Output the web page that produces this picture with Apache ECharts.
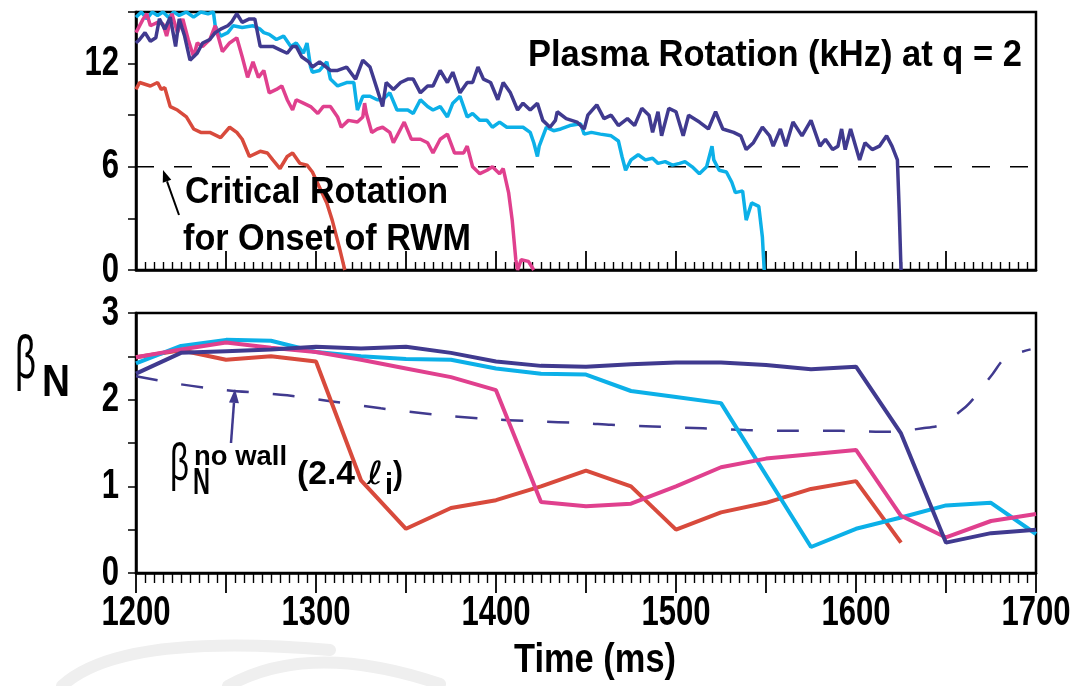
<!DOCTYPE html>
<html><head><meta charset="utf-8">
<script src="https://cdn.jsdelivr.net/npm/echarts@6/dist/echarts.min.js"></script>
<style>html,body{margin:0;padding:0;background:#fff}#c{width:1082px;height:686px}</style>
</head><body><div id="c"></div>
<script>
// ---------- data ----------
const timeTicks = [1200, 1300, 1400, 1500, 1600, 1700];
const rotTicks = [0, 6, 12];
const betaTicks = [0, 1, 2, 3];
const criticalRotation = 6;

const rotRed = [[1200,10.5],[1202,10.9],[1208,10.7],[1212,10.9],[1214,10.5],[1216,10.6],[1219,9.5],[1223,9.3],[1228,8.9],[1232,8.2],[1236,8.0],[1241,8.0],[1247,7.7],[1252,8.3],[1256,8.0],[1259,7.6],[1263,6.6],[1269,6.9],[1273,6.8],[1276,6.4],[1280,5.9],[1284,6.6],[1287,6.8],[1291,6.2],[1295,6.1],[1298,5.7],[1302,4.8],[1306,3.9],[1309,2.9],[1313,1.3],[1316,0]];

const rotPink = [[1200,13.8],[1204,14.6],[1206,14.9],[1208,14.2],[1212,14.4],[1215,14.3],[1217,13.6],[1220,14.9],[1223,13.8],[1226,14.6],[1229,13.4],[1232,12.4],[1234,13.2],[1237,13.0],[1241,13.4],[1244,14.2],[1248,12.7],[1252,13.2],[1256,13.5],[1259,12.4],[1262,11.2],[1265,12.1],[1268,11.2],[1271,11.6],[1274,10.3],[1278,10.5],[1281,10.7],[1284,9.9],[1287,9.3],[1289,9.9],[1293,9.7],[1297,9.5],[1301,9.1],[1304,9.5],[1308,9.5],[1312,8.9],[1314,8.3],[1318,8.7],[1323,8.6],[1326,8.9],[1327,9.7],[1328,9.1],[1331,8.0],[1334,8.2],[1337,8.3],[1341,8.0],[1343,7.4],[1347,8.2],[1349,8.6],[1353,7.6],[1358,7.6],[1362,7.4],[1365,6.8],[1369,7.6],[1373,7.9],[1377,6.8],[1382,6.8],[1384,7.2],[1387,6.0],[1391,5.6],[1395,5.8],[1398,6.0],[1402,5.6],[1404,5.9],[1407,4.5],[1409,2.9],[1411,0.6],[1412,0],[1414,0.6],[1418,0.5],[1421,0]];

const rotCyan = [[1200,14.7],[1203,15],[1206,14.6],[1209,15],[1212,14.8],[1215,15],[1218,14.7],[1221,15],[1224,14.8],[1228,15],[1232,14.7],[1236,15],[1240,14.9],[1243,15],[1244,14.2],[1247,13.6],[1251,13.8],[1254,14.2],[1259,14.1],[1265,14.2],[1269,14.0],[1271,13.8],[1274,13.7],[1278,13.4],[1282,13.6],[1286,13.0],[1289,13.2],[1293,12.6],[1295,13.2],[1297,11.8],[1298,11.5],[1302,11.6],[1306,12.1],[1308,11.1],[1312,10.7],[1317,10.9],[1321,10.9],[1323,9.3],[1326,10.1],[1330,10.1],[1334,9.9],[1337,9.9],[1341,10.3],[1345,9.3],[1351,9.3],[1354,9.1],[1358,9.9],[1362,9.5],[1365,9.3],[1369,9.5],[1373,8.9],[1376,9.7],[1380,10.1],[1384,8.9],[1387,9.1],[1391,8.7],[1395,8.7],[1398,8.3],[1402,8.6],[1406,8.3],[1412,8.3],[1415,8.3],[1419,8.0],[1421,7.4],[1423,6.6],[1424,7.2],[1428,8.3],[1432,8.1],[1436,8.2],[1441,8.4],[1447,8.5],[1449,7.9],[1453,8.0],[1458,7.9],[1464,7.8],[1468,7.5],[1470,6.6],[1472,5.8],[1475,6.4],[1479,6.7],[1483,6.4],[1487,6.5],[1490,6.2],[1494,6.3],[1498,6.1],[1502,6.2],[1505,6.3],[1509,6.0],[1513,5.6],[1517,6.0],[1520,7.2],[1521,6.4],[1524,5.8],[1528,5.7],[1531,5.1],[1533,4.5],[1537,4.6],[1539,2.9],[1542,3.9],[1546,3.7],[1548,1.9],[1549,0]];

const rotPurple = [[1200,13.2],[1202,13.4],[1205,13.8],[1208,13.3],[1211,13.5],[1213,14.6],[1216,14.0],[1219,14.7],[1222,13.0],[1224,14.6],[1227,13.6],[1230,12.2],[1234,12.6],[1237,13.2],[1241,13.4],[1244,13.8],[1247,14.0],[1251,14.2],[1253,14.4],[1256,14.9],[1259,14.4],[1263,14.6],[1266,14.6],[1269,13.0],[1273,13.0],[1276,13.0],[1280,12.8],[1284,12.6],[1287,13.0],[1289,13.0],[1292,12.4],[1296,12.1],[1298,11.8],[1302,12.1],[1308,11.6],[1312,11.6],[1317,11.8],[1322,11.1],[1326,12.2],[1330,11.8],[1334,10.5],[1337,9.5],[1339,10.9],[1343,10.5],[1347,10.9],[1351,11.1],[1354,11.1],[1358,10.3],[1362,10.7],[1365,10.7],[1369,11.6],[1373,10.9],[1376,11.5],[1380,10.3],[1384,10.9],[1387,10.9],[1390,11.8],[1393,11.1],[1397,10.9],[1401,9.9],[1404,10.9],[1408,10.3],[1412,9.3],[1415,9.7],[1419,9.3],[1423,9.7],[1426,8.7],[1430,8.3],[1433,8.7],[1434,9.2],[1439,8.8],[1445,8.6],[1449,8.2],[1451,9.0],[1456,9.6],[1460,8.8],[1464,9.0],[1468,8.4],[1473,8.8],[1477,8.4],[1481,9.4],[1485,9.0],[1487,8.0],[1490,9.2],[1492,7.8],[1496,9.4],[1500,9.2],[1504,7.8],[1507,9.0],[1513,8.6],[1518,8.2],[1522,9.2],[1526,8.2],[1532,8.0],[1536,7.8],[1539,7.0],[1543,7.4],[1548,8.3],[1552,7.8],[1554,7.2],[1558,8.2],[1561,7.2],[1565,8.6],[1570,7.8],[1575,8.7],[1580,7.2],[1583,7.6],[1587,7.0],[1590,7.2],[1592,8.2],[1594,7.0],[1597,8.2],[1602,6.4],[1605,7.4],[1609,7.0],[1613,7.2],[1617,7.8],[1620,7.2],[1623,6.4],[1624,3.5],[1625,0]];

const betaTimes = [1200,1225,1250,1275,1300,1325,1350,1375,1400,1425,1450,1475,1500,1525,1550,1575,1600,1625,1650,1675,1700];
const betaRed    = [2.49,2.57,2.46,2.50,2.44,1.07,0.51,0.75,0.84,1.00,1.18,1.00,0.50,0.70,0.81,0.97,1.06,0.35];
const betaPink   = [2.49,2.58,2.66,2.60,2.55,2.46,2.36,2.26,2.11,0.82,0.77,0.80,1.00,1.22,1.32,1.37,1.42,0.66,0.41,0.60,0.68];
const betaCyan   = [2.42,2.62,2.69,2.68,2.55,2.50,2.47,2.46,2.36,2.30,2.29,2.10,2.03,1.96,null,0.30,0.51,0.64,0.78,0.81,0.45];
const betaPurple = [2.30,2.54,2.56,2.58,2.61,2.59,2.61,2.54,2.44,2.39,2.38,2.41,2.43,2.43,2.40,2.35,2.38,1.61,0.35,0.46,0.50];
const betaNoWall = [[1200,2.27],[1224,2.18],[1250,2.11],[1284,2.05],[1309,1.98],[1336,1.90],[1365,1.83],[1393,1.78],[1421,1.75],[1448,1.73],[1464,1.71],[1487,1.69],[1515,1.67],[1539,1.65],[1566,1.64],[1592,1.64],[1619,1.63],[1637,1.67],[1647,1.71],[1660,1.90],[1666,2.03],[1676,2.30],[1683,2.48],[1697,2.58]];

// ---------- styling ----------
const RED = '#d84a3c', PINK = '#e0408e', CYAN = '#0cb0e8', PURPLE = '#403a8f';
const SANS = "'Liberation Sans', Arial, sans-serif";
const mc = document.createElement('canvas').getContext('2d');
function tw(font, t) { mc.font = font; return mc.measureText(t).width; }

// condensed text: fixed scale (s) or target width (w)
function ctext(str, x, cy, size, weight, fit, opts) {
  opts = opts || {};
  const fam = opts.family || SANS;
  const f = (opts.style || 'normal') + ' ' + weight + ' ' + size + 'px ' + fam;
  const sx = fit.w ? fit.w / tw(f, str) : (fit.s || 1);
  const al = opts.align || 'left';
  return {
    type: 'text', x: x, y: cy, scaleX: sx, z: 100, silent: true,
    style: { text: str, font: f, fill: opts.color || '#000', textAlign: al, textVerticalAlign: 'middle', align: al, verticalAlign: 'middle' }
  };
}
function arrow(x1, y1, x2, y2, color, w, hl, hw) {
  const dx = x2 - x1, dy = y2 - y1, L = Math.hypot(dx, dy), ux = dx / L, uy = dy / L;
  const bx = x2 - ux * hl, by = y2 - uy * hl;
  return [
    { type: 'line', z: 100, silent: true, shape: { x1: x1, y1: y1, x2: bx, y2: by }, style: { stroke: color, lineWidth: w } },
    { type: 'polygon', z: 100, silent: true, shape: { points: [[x2, y2], [bx - uy * hw, by + ux * hw], [bx + uy * hw, by - ux * hw]] }, style: { fill: color } }
  ];
}

const chart = echarts.init(document.getElementById('c'), null, { renderer: 'canvas' });

const xCommon = {
  type: 'value', min: timeTicks[0], max: timeTicks[timeTicks.length - 1], interval: 50,
  axisLine: { show: true, onZero: false, lineStyle: { color: '#000', width: 2.5 } },
  splitLine: { show: false },
  axisLabel: { show: false },
  minorSplitLine: { show: false }
};
const yCommon = {
  type: 'value', min: 0,
  axisLine: { show: true, lineStyle: { color: '#000', width: 2.5 } },
  axisTick: { show: true, inside: false, length: 8, lineStyle: { color: '#000', width: 1.5 } },
  splitLine: { show: false },
  axisLabel: { show: false }
};

const option = {
  animation: false,
  backgroundColor: '#fff',
  grid: [
    { left: 136, right: 46, top: 12, height: 258, show: true, borderColor: '#000', borderWidth: 2.5, backgroundColor: 'transparent', containLabel: false, outerBoundsMode: 'none' },
    { left: 136, right: 46, top: 313, height: 260, show: true, borderColor: '#000', borderWidth: 2.5, backgroundColor: 'transparent', containLabel: false, outerBoundsMode: 'none' }
  ],
  xAxis: [
    Object.assign({}, xCommon, { gridIndex: 0,
      axisTick: { show: true, inside: true, length: 19, lineStyle: { color: '#000', width: 1.8 } },
      minorTick: { show: true, splitNumber: 10, length: 8, lineStyle: { color: '#000', width: 1.4 } } }),
    Object.assign({}, xCommon, { gridIndex: 1,
      axisTick: { show: true, inside: false, length: 20, lineStyle: { color: '#000', width: 1.8 } },
      minorTick: { show: true, splitNumber: 10, length: 10, lineStyle: { color: '#000', width: 1.4 } } })
  ],
  yAxis: [
    Object.assign({}, yCommon, { gridIndex: 0, max: 15, interval: 3 }),
    Object.assign({}, yCommon, { gridIndex: 1, max: 3, interval: 0.5 })
  ],
  series: [
    { type: 'line', xAxisIndex: 0, yAxisIndex: 0, data: [[timeTicks[0], criticalRotation], [timeTicks[timeTicks.length - 1], criticalRotation]], symbol: 'none', silent: true,
      lineStyle: { color: '#000', width: 1.5, type: [18, 20] }, z: 1 },
    { type: 'line', xAxisIndex: 0, yAxisIndex: 0, data: rotRed, symbol: 'none', lineStyle: { color: RED, width: 3.5 }, z: 3 },
    { type: 'line', xAxisIndex: 0, yAxisIndex: 0, data: rotCyan, symbol: 'none', lineStyle: { color: CYAN, width: 3.5 }, z: 2 },
    { type: 'line', xAxisIndex: 0, yAxisIndex: 0, data: rotPink, symbol: 'none', lineStyle: { color: PINK, width: 3.5 }, z: 3 },
    { type: 'line', xAxisIndex: 0, yAxisIndex: 0, data: rotPurple, symbol: 'none', lineStyle: { color: PURPLE, width: 3.5 }, z: 4 },

    { type: 'line', xAxisIndex: 1, yAxisIndex: 1, data: betaNoWall, symbol: 'none', smooth: 0.3, lineStyle: { color: PURPLE, width: 2.5, type: [22, 24] }, z: 2 },
    { type: 'line', xAxisIndex: 1, yAxisIndex: 1, data: betaRed.map((v, i) => [betaTimes[i], v]), symbol: 'none', lineStyle: { color: RED, width: 4 }, z: 3 },
    { type: 'line', xAxisIndex: 1, yAxisIndex: 1, data: betaCyan.map((v, i) => [betaTimes[i], v]), connectNulls: true, symbol: 'none', lineStyle: { color: CYAN, width: 4 }, z: 3 },
    { type: 'line', xAxisIndex: 1, yAxisIndex: 1, data: betaPink.map((v, i) => [betaTimes[i], v]), symbol: 'none', lineStyle: { color: PINK, width: 4 }, z: 3 },
    { type: 'line', xAxisIndex: 1, yAxisIndex: 1, data: betaPurple.map((v, i) => [betaTimes[i], v]), symbol: 'none', lineStyle: { color: PURPLE, width: 4 }, z: 4 }
  ]
};
chart.setOption(option);

// ---------- texts (tick labels placed through the axes' own scales) ----------
const LABEL_SX = 0.74;
const g = [];
// faint grey swoosh marks at the bottom-left of the scan
g.push({ type: 'bezierCurve', z: 0, silent: true, shape: { x1: 62, y1: 686, cpx1: 120, cpy1: 632, x2: 330, y2: 650 }, style: { fill: null, stroke: '#efefef', lineWidth: 12, lineCap: 'round' } });
g.push({ type: 'bezierCurve', z: 0, silent: true, shape: { x1: 228, y1: 686, cpx1: 310, cpy1: 640, x2: 440, y2: 684 }, style: { fill: null, stroke: '#efefef', lineWidth: 12, lineCap: 'round' } });
timeTicks.forEach(t => {
  const x = chart.convertToPixel({ xAxisIndex: 1 }, t);
  g.push(ctext(String(t), x, 613, 42, 'bold', { s: LABEL_SX }, { align: 'center' }));
});
rotTicks.forEach(v => {
  const y = chart.convertToPixel({ yAxisIndex: 0 }, v);
  g.push(ctext(String(v), 119, y, 42, 'bold', { s: LABEL_SX }, { align: 'right' }));
});
betaTicks.forEach(v => {
  const y = chart.convertToPixel({ yAxisIndex: 1 }, v);
  g.push(ctext(String(v), 119, y, 42, 'bold', { s: LABEL_SX }, { align: 'right' }));
});
g.push(ctext('Time (ms)', 595, 661, 40, 'bold', { w: 162 }, { align: 'center' }));
g.push(ctext('Plasma Rotation (kHz) at q = 2', 528, 56, 37, 'bold', { w: 494 }));
g.push(ctext('Critical Rotation', 185, 193, 36, 'bold', { w: 263 }));
g.push(ctext('for Onset of RWM', 183, 240, 36, 'bold', { w: 288 }));
g.push(...arrow(179, 215, 163, 170, '#000', 2, 12, 4.5));
// big beta_N axis title
g.push(ctext('\u03B2', 15, 361, 62, 'normal', { w: 21 }));
g.push(ctext('N', 42, 384, 45, 'bold', { w: 28 }));
// beta_N^{no wall} (2.4 l_i)
g.push(ctext('\u03B2', 170, 466, 51, 'normal', { w: 19 }));
g.push(ctext('N', 193, 484, 37, 'bold', { w: 17 }));
g.push(ctext('no wall', 194, 457, 28, 'bold', { w: 93 }));
g.push(ctext('(2.4', 297, 475, 33, 'bold', { w: 58 }));
g.push(ctext('\u2113', 367, 476, 32, 'normal', { w: 16 }, { style: 'italic', family: "'DejaVu Sans', sans-serif" }));
g.push(ctext('i', 385, 486, 30, 'bold', { w: 8 }));
g.push(ctext(')', 393, 475, 33, 'bold', { w: 10 }));
g.push(...arrow(231, 443, 235, 389, PURPLE, 2.5, 14, 5));
chart.setOption({ graphic: g });
</script>
</body></html>
